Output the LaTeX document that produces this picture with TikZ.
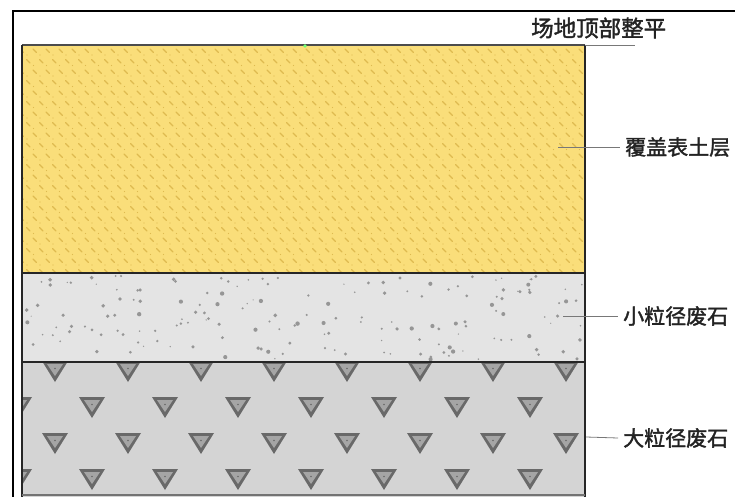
\documentclass[tikz,border=0pt]{standalone}
\usepackage{fontspec}
\newfontfamily\cjk[AutoFakeBold=1.6]{Noto Sans CJK SC}
\definecolor{soil}{RGB}{250,222,122}
\definecolor{soilmark}{RGB}{222,186,80}
\definecolor{finegravel}{RGB}{228,228,228}
\definecolor{finedot}{RGB}{150,150,150}
\definecolor{coarse}{RGB}{212,212,212}
\definecolor{rockedge}{RGB}{105,105,105}
\definecolor{rockface}{RGB}{165,165,165}
\definecolor{leader}{RGB}{120,120,120}
\definecolor{labeltext}{RGB}{35,35,35}
\tikzset{
  frameline/.style={line width=2pt, black},
  layerline/.style={line width=1.8pt, black!85},
  leaderline/.style={line width=0.8pt, leader},
  layerlabel/.style={font=\cjk\bfseries\fontsize{21}{21}\selectfont, text=labeltext, inner sep=0pt, anchor=west},
  rock/.pic={
    \fill[rockedge] (-13,-10) -- (13,-10) -- (0,11) -- cycle;
    \fill[rockface] (-8,-7) -- (8,-7) -- (0,5) -- cycle;
    \fill[rockedge] (0,-2.5) circle (0.8);
  }
}
\begin{document}
\begin{tikzpicture}[x=1pt, y=-1pt]
\useasboundingbox (0,0) rectangle (735,497);
\fill[white] (0,0) rectangle (735,497);

% cover soil layer with diagonal dashes and specks
\fill[soil] (22,45) rectangle (585,273);
\begin{scope}
  \clip (22,45) rectangle (585,273);
  \foreach \r in {0,...,21} {
    \pgfmathsetmacro{\yy}{49+\r*10.5}
    \pgfmathsetmacro{\xo}{mod(\r,2)*6.5}
    \foreach \c in {0,...,44} {
      \pgfmathsetmacro{\xx}{20+\xo+\c*13}
      \draw[soilmark, line width=1.1pt, line cap=round] (\xx,\yy) -- ++(3.5,3.5);
      \fill[soilmark] (\xx+7,\yy+6) circle (0.6);
    }
  }
\end{scope}

% fine waste rock layer with scattered grains
\fill[finegravel] (22,273) rectangle (585,362);
\begin{scope}
  \clip (22,273) rectangle (585,362);
  \pgfmathsetseed{4242}
  \foreach \i in {1,...,170} {
    \pgfmathsetmacro{\px}{24+559*rnd}
    \pgfmathsetmacro{\py}{276+84*rnd}
    \pgfmathsetmacro{\pr}{0.6+1.6*rnd}
    \fill[finedot] (\px,\py) circle (\pr);
  }
\end{scope}

% coarse waste rock layer with inverted triangles
\fill[coarse] (22,362) rectangle (585,497);
\begin{scope}
  \clip (22,362) rectangle (585,495);
  \foreach \r in {0,...,3} {
    \pgfmathsetmacro{\yy}{371+\r*36}
    \pgfmathsetmacro{\xo}{mod(\r,2)==0 ? 55 : 19}
    \foreach \c in {0,...,7} {
      \pic at (\xo+\c*73,\yy) {rock};
    }
  }
\end{scope}

% section outline and layer boundaries
\draw[layerline, black!70] (22,45) -- (585,45);
\draw[layerline] (22,497) -- (22,45);
\draw[layerline] (585,45) -- (585,497);
\draw[layerline] (22,273) -- (585,273);
\draw[layerline] (22,362) -- (585,362);
\draw[line width=1.2pt, black!55] (22,495) -- (585,495);
\fill[green!55] (305,46) circle (1.8);

% outer frame
\draw[frameline] (13,497) -- (13,11) -- (735,11);

% labels and leaders
\coordinate (topend) at (585,45);
\node[layerlabel, font=\cjk\bfseries\fontsize{22.5}{22.5}\selectfont] (toplbl) at (531,28) {场地顶部整平};
\coordinate (topleader) at (635,45);
\draw[leaderline] (topend) -- (topleader);

\coordinate (soilpt) at (558,147);
\node[layerlabel] (soillbl) at (625,147) {覆盖表土层};
\draw[leaderline] (soilpt) -- (soillbl.west -| 620,0);

\coordinate (finept) at (563,316);
\node[layerlabel] (finelbl) at (623,316) {小粒径废石};
\draw[leaderline] (finept) -- (finelbl.west -| 618,0);

\coordinate (coarsept) at (586,437);
\node[layerlabel] (coarselbl) at (623,438) {大粒径废石};
\draw[leaderline] (coarsept) -- (coarselbl.west -| 618,0);
\end{tikzpicture}
\end{document}
